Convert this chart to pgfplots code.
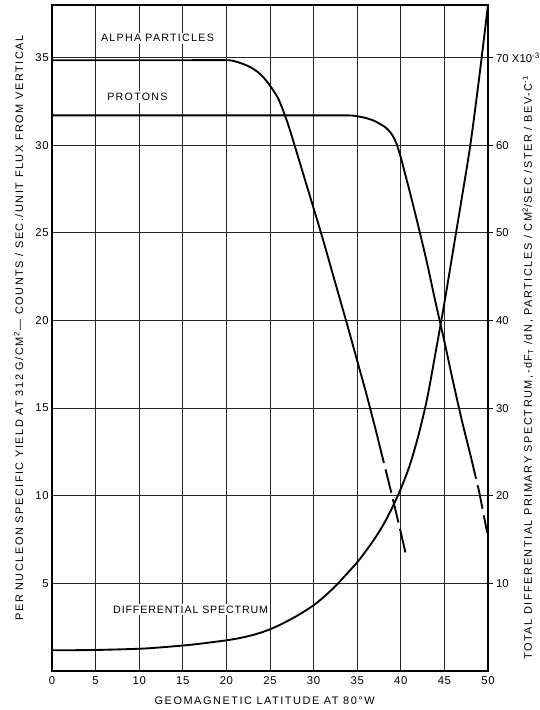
\documentclass[border=0pt]{standalone}
\usepackage{fontspec}
\setmainfont{Liberation Sans}[LetterSpace=6]
\usepackage{pgfplots}
\pgfplotsset{compat=1.18}
\begin{document}
\begin{tikzpicture}
\begin{axis}[
  at={(0,0)}, anchor=south west,
  scale only axis, width=327pt, height=499.5pt,
  xmin=0, xmax=50, ymin=0, ymax=38,
  xtick={0,5,...,50}, ytick={5,10,...,35},
  grid=major, major grid style={black!85, line width=0.6pt},
  axis line style={line width=1.1pt},
  tick style={draw=none},
  /pgf/number format/assume math mode=true,
  ticklabel style={font=\fontsize{8.5}{10}\selectfont},
  xticklabel style={yshift=-1pt},
  yticklabel style={xshift=1pt},
  xlabel={GEOMAGNETIC LATITUDE AT 80°W},
  ylabel={PER NUCLEON SPECIFIC YIELD AT 312 G/CM\textsuperscript{2}\,--- COUNTS / SEC./UNIT FLUX FROM VERTICAL},
  label style={font=\fontsize{8.2}{9}\selectfont\addfontfeatures{LetterSpace=14}},
  xlabel style={at={(rel axis cs:0.5,0)}, anchor=center, yshift=-22pt, xshift=-4pt},
  ylabel style={at={(rel axis cs:0,0.515)}, anchor=center, yshift=25pt},
  clip=false,
]
% alpha particles
\addplot[black, line width=1.4pt, smooth, tension=0.5] coordinates {
(0,34.85)(5,34.85)(10,34.85)(15,34.85)(20,34.85)(21,34.78)(22,34.62)(23,34.38)(24,34.0)(25,33.4)(26,32.6)(27,31.3)(28,29.7)(29,28.05)(30,26.4)(31,24.75)(32,23.0)(33,21.25)(34,19.5)(35,17.7)(36,15.9)(37,14.0)(37.4,13.2)};
\addplot[black, line width=1.4pt, dash pattern=on 18pt off 5pt] coordinates {
(37.4,13.2)(38,12.0)(39,10.0)(40,7.9)(40.7,6.4)};
% protons
\addplot[black, line width=1.4pt, smooth, tension=0.5] coordinates {
(0,31.7)(5,31.7)(10,31.7)(15,31.7)(20,31.7)(25,31.7)(30,31.7)(34,31.7)(35,31.65)(36,31.55)(37,31.38)(38,31.1)(38.5,30.9)(39,30.6)(39.5,30.1)(40,29.3)(40.5,28.35)(41,27.4)(42,25.4)(43,23.3)(44,21.0)(45,18.8)(46,16.5)(47,14.3)(48,12.3)};
\addplot[black, line width=1.4pt, dash pattern=on 18pt off 5pt] coordinates {
(48,12.3)(49,10.2)(49.9,7.9)};
% differential spectrum
\addplot[black, line width=1.4pt, smooth, tension=0.5] coordinates {
(0,1.18)(5,1.2)(10,1.27)(12,1.33)(14,1.41)(16,1.5)(18,1.62)(20,1.75)(21,1.83)(22,1.93)(23,2.05)(24,2.2)(25,2.38)(26,2.6)(27,2.85)(28,3.12)(29,3.42)(30,3.75)(31,4.15)(32,4.6)(33,5.1)(34,5.65)(35,6.2)(36,6.85)(37,7.55)(38,8.35)(39,9.3)(40,10.4)(41,11.7)(42,13.4)(43,15.5)(44,18.2)(45,21.0)(46,24.0)(47,27.0)(48,30.1)(49,33.9)(50,38)};
\node[fill=white, inner sep=1.5pt, font=\fontsize{8}{9}\selectfont\addfontfeatures{LetterSpace=12}] at (axis cs:12.1,36.1) {ALPHA PARTICLES};
\node[fill=white, inner sep=1.5pt, font=\fontsize{8}{9}\selectfont\addfontfeatures{LetterSpace=12}] at (axis cs:9.8,32.75) {PROTONS};
\node[fill=white, inner sep=1.5pt, font=\fontsize{8}{9}\selectfont\addfontfeatures{LetterSpace=8}] at (axis cs:15.9,3.5) {DIFFERENTIAL SPECTRUM};
\end{axis}
\begin{axis}[
  at={(0,0)}, anchor=south west,
  scale only axis, width=327pt, height=499.5pt,
  xmin=0, xmax=50, ymin=0, ymax=76,
  axis x line=none, axis y line*=right,
  axis line style={line width=1.1pt},
  ytick={10,20,...,70},
  yticklabels={10,20,30,40,50,60,{70\hspace{2.5pt}X10\textsuperscript{-3}}},
  ytick style={line width=0.8pt, black},
  tick align=outside, major tick length=4pt,
  /pgf/number format/assume math mode=true,
  yticklabel style={font=\fontsize{8.5}{10}\selectfont\addfontfeatures{LetterSpace=0}, xshift=-1.5pt},
  ylabel={TOTAL DIFFERENTIAL PRIMARY SPECTRUM,-dF\textsubscript{T} /dN, PARTICLES / CM\textsuperscript{2}/SEC /STER / BEV-C\textsuperscript{-1}},
  ylabel style={font=\fontsize{8.2}{9}\selectfont\addfontfeatures{LetterSpace=14}, at={(rel axis cs:1,0.456)}, anchor=center, yshift=-30pt},
]
\end{axis}
\pgfresetboundingbox
\path (-39pt,-29.25pt) rectangle (365.25pt,503.25pt);
\end{tikzpicture}
\end{document}
